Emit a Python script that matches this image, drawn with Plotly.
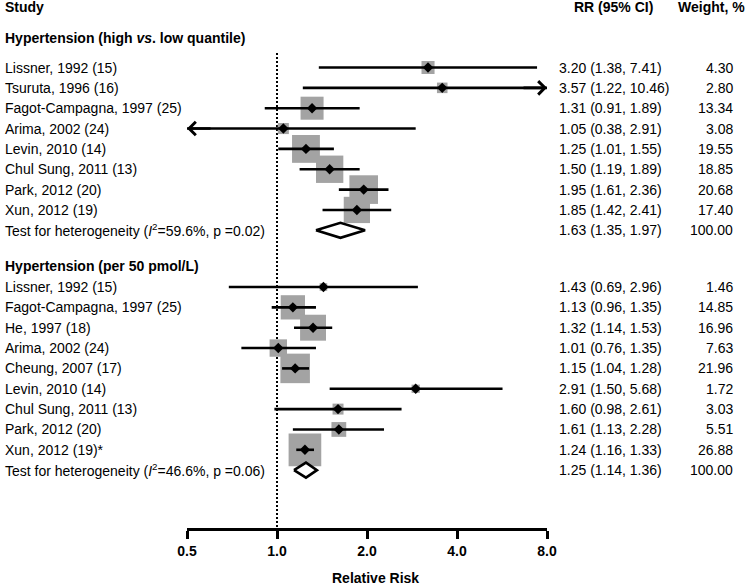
import numpy as np
import plotly.graph_objects as go

# ---------------- DATA ----------------
s1_title = "Hypertension (high <i>vs</i>. low quantile)"
s1_studies = ["Lissner, 1992 (15)", "Tsuruta, 1996 (16)", "Fagot-Campagna, 1997 (25)",
              "Arima, 2002 (24)", "Levin, 2010 (14)", "Chul Sung, 2011 (13)",
              "Park, 2012 (20)", "Xun, 2012 (19)"]
s1_rr = [3.20, 3.57, 1.31, 1.05, 1.25, 1.50, 1.95, 1.85]
s1_lo = [1.38, 1.22, 0.91, 0.38, 1.01, 1.19, 1.61, 1.42]
s1_hi = [7.41, 10.46, 1.89, 2.91, 1.55, 1.89, 2.36, 2.41]
s1_w = [4.30, 2.80, 13.34, 3.08, 19.55, 18.85, 20.68, 17.40]
s1_pooled = [1.63, 1.35, 1.97]
s1_i2 = "59.6%"
s1_p = "0.02"

s2_title = "Hypertension (per 50 pmol/L)"
s2_studies = ["Lissner, 1992 (15)", "Fagot-Campagna, 1997 (25)", "He, 1997 (18)",
              "Arima, 2002 (24)", "Cheung, 2007 (17)", "Levin, 2010 (14)",
              "Chul Sung, 2011 (13)", "Park, 2012 (20)", "Xun, 2012 (19)*"]
s2_rr = [1.43, 1.13, 1.32, 1.01, 1.15, 2.91, 1.60, 1.61, 1.24]
s2_lo = [0.69, 0.96, 1.14, 0.76, 1.04, 1.50, 0.98, 1.13, 1.16]
s2_hi = [2.96, 1.35, 1.53, 1.35, 1.28, 5.68, 2.61, 2.28, 1.33]
s2_w = [1.46, 14.85, 16.96, 7.63, 21.96, 1.72, 3.03, 5.51, 26.88]
s2_pooled = [1.25, 1.14, 1.36]
s2_i2 = "46.6%"
s2_p = "0.06"

tick_vals = [0.5, 1.0, 2.0, 4.0, 8.0]
x_title = "Relative Risk"

# ---------------- LAYOUT CONSTANTS ----------------
W, H = 749, 587
PX_L, PX_R = 187, 547          # pixel x of 0.5 and 8.0
AXIS_PX = 528                  # pixel y of x-axis line
X_MIN, X_MAX = tick_vals[0], tick_vals[-1]
FONT = "Liberation Sans, Arial, sans-serif"
FS = 14
STEP = 20.35
S1_Y0 = 67.5
S2_Y0 = 287.0
BOX_GRAY = "#a3a3a3"
LW = 2.6

s1_y = [S1_Y0 + i * STEP for i in range(len(s1_studies) + 1)]
s2_y = [S2_Y0 + i * STEP for i in range(len(s2_studies) + 1)]

fig = go.Figure()
annotations = []


def txt(text, xpx, y, anchor="left", bold=False):
    if bold:
        text = "<b>" + text + "</b>"
    annotations.append(dict(text=text, x=xpx / W, xref="paper", y=y, yref="y",
                            xanchor=anchor, yanchor="middle", showarrow=False,
                            font=dict(family=FONT, size=FS, color="black")))


def add_section(title, title_y, studies, rr, lo, hi, w, ys, pooled, i2, p):
    txt(title, 3, title_y, bold=True)
    n = len(studies)
    # boxes
    fig.add_trace(go.Scatter(x=rr, y=ys[:n], mode="markers", cliponaxis=False,
                             marker=dict(symbol="square", color=BOX_GRAY, opacity=1,
                                         size=[6.3 * np.sqrt(v) for v in w],
                                         line=dict(width=0)),
                             hoverinfo="skip"))
    # CI lines
    lx, ly = [], []
    for a, b, yy in zip(lo, hi, ys[:n]):
        lx += [max(a, X_MIN), min(b, X_MAX), None]
        ly += [yy, yy, None]
    fig.add_trace(go.Scatter(x=lx, y=ly, mode="lines",
                             line=dict(color="black", width=LW), hoverinfo="skip"))
    # arrows for truncated CIs
    for a, b, yy in zip(lo, hi, ys[:n]):
        if b > X_MAX:
            annotations.append(dict(x=np.log10(X_MAX), y=yy, xref="x", yref="y", text="",
                                    showarrow=True, ax=-25, ay=0, arrowhead=4,
                                    arrowsize=1, arrowwidth=LW, arrowcolor="black",
                                    standoff=0))
        if a < X_MIN:
            annotations.append(dict(x=np.log10(X_MIN), y=yy, xref="x", yref="y", text="",
                                    showarrow=True, ax=25, ay=0, arrowhead=4,
                                    arrowsize=1, arrowwidth=LW, arrowcolor="black",
                                    standoff=0))
    # point estimates
    fig.add_trace(go.Scatter(x=rr, y=ys[:n], mode="markers", cliponaxis=False,
                             marker=dict(symbol="diamond", color="black", size=8),
                             hoverinfo="skip"))
    # pooled diamond
    est, plo, phi = pooled
    yy = ys[n]
    hh = 7.5
    fig.add_trace(go.Scatter(x=[plo, est, phi, est, plo], y=[yy, yy - hh, yy, yy + hh, yy],
                             mode="lines", fill="toself", fillcolor="white",
                             line=dict(color="black", width=LW), hoverinfo="skip"))
    # text columns
    for i in range(n):
        txt(studies[i], 3, ys[i])
        txt(f"{rr[i]:.2f} ({lo[i]:.2f}, {hi[i]:.2f})", 557, ys[i])
        txt(f"{w[i]:.2f}", 735, ys[i], anchor="right")
    txt(f"Test for heterogeneity (<i>I</i><sup>2</sup>={i2}, p ={p})", 3, yy)
    txt(f"{est:.2f} ({plo:.2f}, {phi:.2f})", 557, yy)
    txt("100.00", 735, yy, anchor="right")


add_section(s1_title, 38, s1_studies, s1_rr, s1_lo, s1_hi, s1_w, s1_y, s1_pooled, s1_i2, s1_p)
add_section(s2_title, 266, s2_studies, s2_rr, s2_lo, s2_hi, s2_w, s2_y, s2_pooled, s2_i2, s2_p)

# headers
txt("Study", 3, 7, bold=True)
txt("RR (95% CI)", 572, 7, bold=True)
txt("Weight, %", 747, 7, anchor="right", bold=True)

# axis title
annotations.append(dict(text="<b>" + x_title + "</b>", x=375 / W, xref="paper",
                        y=(H - 578) / H, yref="paper", xanchor="center", yanchor="middle",
                        showarrow=False, font=dict(family=FONT, size=FS, color="black")))

# reference line at RR = 1
fig.add_shape(type="line", x0=1, x1=1, y0=53, y1=AXIS_PX, xref="x", yref="y",
              line=dict(color="black", width=2, dash="2px,2px"), layer="below")

fig.update_layout(width=W, height=H, margin=dict(l=0, r=0, t=0, b=0, pad=0),
                  plot_bgcolor="white", paper_bgcolor="white", showlegend=False,
                  font=dict(family=FONT, size=FS, color="black"),
                  annotations=annotations)
fig.update_xaxes(type="log", domain=[PX_L / W, PX_R / W],
                 range=[np.log10(X_MIN), np.log10(X_MAX)],
                 showline=True, linecolor="black", linewidth=LW,
                 ticks="outside", ticklen=8, tickwidth=LW, tickcolor="black",
                 tickvals=tick_vals, ticktext=[f"<b>{t:.1f}</b>" for t in tick_vals],
                 tickfont=dict(family=FONT, size=FS, color="black"),
                 showgrid=False, zeroline=False, automargin=False)
fig.update_yaxes(domain=[(H - AXIS_PX) / H, 1], range=[AXIS_PX, 0], visible=False,
                 showgrid=False, zeroline=False, automargin=False)

fig.write_html("out.html", config={"displayModeBar": False},
               post_script="document.body.style.margin='0';document.body.style.padding='0';")
